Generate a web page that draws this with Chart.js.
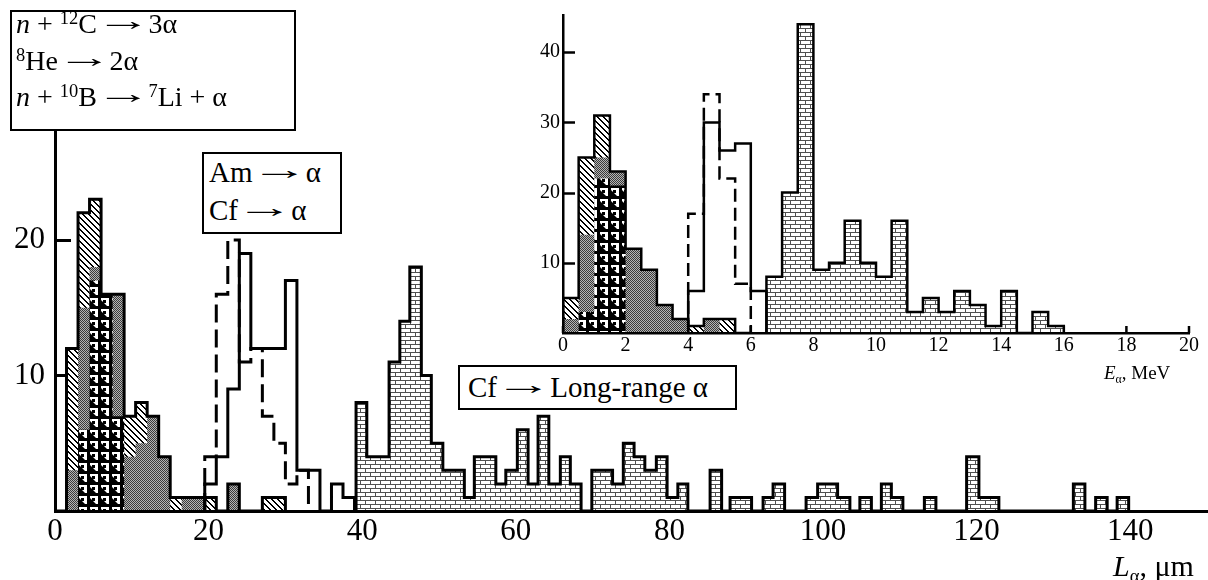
<!DOCTYPE html>
<html>
<head>
<meta charset="utf-8">
<script src="https://cdn.jsdelivr.net/npm/chart.js@4.4.1/dist/chart.umd.min.js"></script>
<style>
  body { margin: 0; background: #fff; }
  #wrap { position: relative; width: 1208px; height: 580px; overflow: hidden; font-family: "Liberation Serif", "Times New Roman", serif; color: #000; background: #fff; }
  #main { position: absolute; left: 0; top: 0; }
  #inset { position: absolute; left: 510px; top: 0; }
  .box { position: absolute; border: 2.5px solid #000; background: #fff; box-sizing: border-box; }
  .txt { position: absolute; white-space: nowrap; line-height: 1; }
  .up { font-size: 0.66em; position: relative; top: -0.5em; }
  .dn { font-size: 0.62em; position: relative; top: 0.3em; }
  .ar { display: inline-block; position: relative; top: -0.1em; transform: scaleX(2.0); margin: 0 0.17em; }
</style>
</head>
<body>
<div id="wrap">
  <canvas id="main" width="1208" height="580"></canvas>
  <canvas id="inset" width="698" height="378"></canvas>

  <div class="box" style="left:10px;top:10px;width:286px;height:121px"></div>
  <div class="txt" style="left:16px;top:10px;font-size:28px"><i>n</i> + <span class="up">12</span>C <span class="ar">→</span> 3α</div>
  <div class="txt" style="left:16px;top:47px;font-size:28px"><span class="up">8</span>He <span class="ar">→</span> 2α</div>
  <div class="txt" style="left:16px;top:83px;font-size:28px"><i>n</i> + <span class="up">10</span>B <span class="ar">→</span> <span class="up">7</span>Li + α</div>

  <div class="box" style="left:202px;top:152px;width:140px;height:82px"></div>
  <div class="txt" style="left:209px;top:158px;font-size:29px">Am <span class="ar">→</span> α</div>
  <div class="txt" style="left:209px;top:196px;font-size:29px">Cf <span class="ar">→</span> α</div>

  <div class="box" style="left:458px;top:365px;width:279px;height:45px"></div>
  <div class="txt" style="left:468px;top:373px;font-size:29px">Cf <span class="ar">→</span> Long-range α</div>

  <div class="txt" style="left:1113px;top:551px;font-size:30px"><i>L</i><span class="dn">α</span>, μm</div>
  <div class="txt" style="left:1104px;top:363px;font-size:19px"><i>E</i><span class="dn">α</span>, MeV</div>
</div>

<script>
// ---- main histogram, L_alpha (um), bins 1.5 um ----
const lowEdges = [0, 1.5, 3, 4.5, 6, 7.5, 9, 10.5, 12, 13.5, 15, 16.5, 18, 19.5, 21, 22.5, 24, 25.5, 27, 28.5, 30];
const lowBoron = [0, 0, 6, 17, 16, 7, 0, 0, 0, 0, 0, 0, 0, 0, 0, 0, 0, 0, 0, 0];
const lowHelium = [0, 3, 9, 1, 0, 9, 4, 5, 7, 4, 0, 1, 1, 0, 0, 2, 0, 0, 0, 0];
const lowCarbon = [0, 9, 7, 5, 0, 0, 3, 3, 0, 0, 1, 0, 0, 1, 0, 0, 0, 0, 1, 1];

const cfEdges = [19.5, 21, 22.5, 24, 25.5, 27, 28.5, 30, 31.5, 33, 34.5, 36, 37.5, 39];
const cfCounts = [2, 4, 9, 19, 12, 12, 12, 17, 3, 3, 0, 2, 1];
const amEdges = [19.5, 21, 22.5, 24, 25.5, 27, 28.5, 30, 31.5, 33];
const amCounts = [4, 16, 20, 11, 12, 7, 5, 2, 3];

const longEdges = [39.2, 40.6, 42.1, 43.5, 44.9, 46.2, 47.7, 49.0, 50.5, 51.9, 53.3, 54.6, 56.0, 57.4, 58.7, 60.2,
  61.6, 62.9, 64.3, 65.8, 67.1, 68.5, 69.9, 71.2, 72.6, 74.0, 75.4, 76.8, 78.3, 79.7, 81.1, 82.4, 85.3, 86.8,
  87.9, 89.3, 90.7, 92.2, 93.5, 95.0, 97.8, 99.3, 100.6, 101.9, 103.5, 104.8, 106.3, 107.6, 108.9, 110.4,
  113.2, 114.7, 118.7, 120.3, 121.6, 122.9, 132.6, 134.1, 135.5, 137.0, 138.3, 139.8];
const longCounts = [8, 4, 4, 11, 14, 18, 10, 5, 3, 3, 1, 4, 4, 2, 3, 6, 2, 7, 2, 4, 2, 0, 3, 3, 2, 5, 4, 3, 4, 1,
  2, 0, 3, 0, 1, 1, 0, 1, 2, 0, 1, 2, 2, 1, 0, 1, 0, 2, 1, 0, 1, 0, 4, 1, 1, 0, 2, 0, 1, 0, 1];

const mainXTicks = [0, 20, 40, 60, 80, 100, 120, 140];
const mainYTicks = [10, 20];

// ---- inset histogram, E_alpha (MeV), bins 0.5 MeV ----
const inLowEdges = [0, 0.5, 1, 1.5, 2, 2.5, 3, 3.5, 4, 4.5, 5, 5.5, 6];
const inBoron = [0, 3, 22, 21, 0, 0, 0, 0, 0, 0, 0, 0];
const inHelium = [2, 11, 3, 2, 12, 9, 4, 2, 0, 2, 0, 0];
const inCarbon = [3, 11, 6, 0, 0, 0, 0, 0, 1, 0, 2, 0];

const inCfEdges = [4, 4.5, 5, 5.5, 6, 6.5];
const inCfCounts = [6, 30, 26, 27, 6];
const inAmEdges = [4, 4.5, 5, 5.5, 6];
const inAmCounts = [17, 34, 22, 7];

const inLongEdges = [6.5, 7, 7.5, 8, 8.5, 9, 9.5, 10, 10.5, 11, 11.5, 12, 12.5, 13, 13.5, 14, 14.5, 15, 15.5, 16];
const inLongCounts = [8, 20, 44, 9, 10, 16, 10, 8, 16, 3, 5, 3, 6, 4, 1, 6, 0, 3, 1];

const inXTicks = [0, 2, 4, 6, 8, 10, 12, 14, 16, 18, 20];
const inYTicks = [10, 20, 30, 40];

// ---- helpers ----
function stepPoints(edges, counts) {
  const pts = [{ x: edges[0], y: 0 }];
  counts.forEach((c, i) => pts.push({ x: edges[i], y: c }));
  pts.push({ x: edges[edges.length - 1], y: 0 });
  return pts;
}
function addUp(...arrs) {
  return arrs[0].map((_, i) => arrs.reduce((s, a) => s + a[i], 0));
}

function makePattern(ctx, w, h, paint) {
  const c = document.createElement("canvas");
  c.width = w; c.height = h;
  const g = c.getContext("2d");
  paint(g);
  return ctx.createPattern(c, "repeat");
}
function patterns(ctx) {
  return {
    hatch: makePattern(ctx, 6, 6, g => {
      g.fillStyle = "#fff"; g.fillRect(0, 0, 6, 6);
      g.fillStyle = "#000";
      for (let i = 0; i < 6; i++) { g.fillRect(i, i, 1, 1); g.fillRect((i + 1) % 6, i, 1, 1); }
    }),
    gray: makePattern(ctx, 2, 2, g => {
      g.fillStyle = "#b4b4b4"; g.fillRect(0, 0, 2, 2);
      g.fillStyle = "#3a3a3a"; g.fillRect(0, 0, 1, 1); g.fillRect(1, 1, 1, 1);
    }),
    boron: makePattern(ctx, 11, 11, g => {
      g.fillStyle = "#000"; g.fillRect(0, 0, 11, 11);
      g.fillStyle = "#fff"; g.fillRect(2, 1, 8, 8);
      g.fillStyle = "#000";
      g.beginPath(); g.moveTo(2, 9); g.lineTo(2, 3); g.lineTo(8, 9); g.closePath(); g.fill();
      g.fillRect(4, 3, 3, 3);
    }),
    brick: makePattern(ctx, 10, 8, g => {
      g.fillStyle = "#fff"; g.fillRect(0, 0, 10, 8);
      g.fillStyle = "#505050";
      g.fillRect(0, 0, 10, 1); g.fillRect(0, 4, 10, 1);
      g.fillRect(0, 0, 1, 4); g.fillRect(5, 4, 1, 4);
    })
  };
}

const inwardTicks = {
  id: "inwardTicks",
  beforeDatasetsDraw(chart, args, opts) {
    const { ctx } = chart;
    const x = chart.scales.x, y = chart.scales.y;
    ctx.save();
    ctx.strokeStyle = "#000";
    ctx.lineWidth = opts.width;
    (opts.yValues || []).forEach(v => {
      const py = Math.round(y.getPixelForValue(v)) + 0.5;
      ctx.beginPath(); ctx.moveTo(x.left, py); ctx.lineTo(x.left + opts.yLen, py); ctx.stroke();
    });
    (opts.xValues || []).forEach(v => {
      const px = x.getPixelForValue(v);
      ctx.beginPath(); ctx.moveTo(px, y.bottom); ctx.lineTo(px, y.bottom - opts.xLen); ctx.stroke();
    });
    ctx.restore();
  }
};

function fillLayer(data, bg, order) {
  return { data, stepped: true, fill: "origin", backgroundColor: bg, borderColor: "rgba(0,0,0,0)", borderWidth: 1, order };
}
function outline(data, width, order, dash) {
  return { data, stepped: true, fill: false, borderColor: "#000", borderWidth: width, borderDash: dash || [], borderJoinStyle: "miter", borderCapStyle: "butt", order };
}

function axisOptions(cfg) {
  return {
    type: "linear", min: cfg.min, max: cfg.max,
    afterFit: cfg.fit,
    grid: { display: false, drawTicks: false },
    border: { display: true, color: "#000", width: cfg.bw, z: 1 },
    ticks: {
      stepSize: cfg.step, includeBounds: false, autoSkip: false, maxRotation: 0, padding: cfg.pad, color: "#000",
      font: { family: "Liberation Serif", size: cfg.size },
      callback: v => (cfg.show.includes(v) ? String(v) : "")
    }
  };
}

// ---- main chart ----
const mainCtx = document.getElementById("main").getContext("2d");
const pm = patterns(mainCtx);
new Chart(mainCtx, {
  type: "line",
  data: {
    datasets: [
      outline(stepPoints(cfEdges, cfCounts), 3, 1),
      outline(stepPoints(amEdges, amCounts), 3, 2, [18, 7]),
      Object.assign(outline(stepPoints(longEdges, longCounts), 3, 3), { fill: "origin", backgroundColor: pm.brick }),
      outline(stepPoints(lowEdges, addUp(lowBoron, lowHelium, lowCarbon)), 3, 4),
      fillLayer(stepPoints(lowEdges, lowBoron), pm.boron, 5),
      fillLayer(stepPoints(lowEdges, addUp(lowBoron, lowHelium)), pm.gray, 6),
      fillLayer(stepPoints(lowEdges, addUp(lowBoron, lowHelium, lowCarbon)), pm.hatch, 7)
    ]
  },
  options: {
    responsive: false,
    animation: false,
    layout: { padding: { top: 118, right: 1, left: 0, bottom: 0 } },
    elements: { point: { radius: 0 }, line: { tension: 0 } },
    plugins: {
      legend: { display: false },
      tooltip: { enabled: false },
      inwardTicks: { yValues: mainYTicks, yLen: 16, width: 3 }
    },
    scales: {
      x: axisOptions({ min: 0, max: 150, step: 20, pad: 2, size: 31, bw: 3, show: mainXTicks, fit: s => { s.height = 69; } }),
      y: axisOptions({ min: 0, max: 29, step: 10, pad: 10, size: 31, bw: 3, show: mainYTicks, fit: s => { s.width = 55; } })
    }
  },
  plugins: [inwardTicks]
});

// ---- inset chart ----
const inCtx = document.getElementById("inset").getContext("2d");
const pi = patterns(inCtx);
new Chart(inCtx, {
  type: "line",
  data: {
    datasets: [
      outline(stepPoints(inCfEdges, inCfCounts), 2.5, 1),
      outline(stepPoints(inAmEdges, inAmCounts), 2.5, 2, [13, 6]),
      Object.assign(outline(stepPoints(inLongEdges, inLongCounts), 2.5, 3), { fill: "origin", backgroundColor: pi.brick }),
      outline(stepPoints(inLowEdges, addUp(inBoron, inHelium, inCarbon)), 2.5, 4),
      fillLayer(stepPoints(inLowEdges, inBoron), pi.boron, 5),
      fillLayer(stepPoints(inLowEdges, addUp(inBoron, inHelium)), pi.gray, 6),
      fillLayer(stepPoints(inLowEdges, addUp(inBoron, inHelium, inCarbon)), pi.hatch, 7)
    ]
  },
  options: {
    responsive: false,
    animation: false,
    layout: { padding: { top: 8, right: 19, left: 0, bottom: 0 } },
    elements: { point: { radius: 0 }, line: { tension: 0 } },
    plugins: {
      legend: { display: false },
      tooltip: { enabled: false },
      inwardTicks: { yValues: inYTicks, yLen: 12, xValues: inXTicks, xLen: 7, width: 2.5 }
    },
    scales: {
      x: axisOptions({ min: 0, max: 20, step: 2, pad: 1, size: 20, bw: 2.5, show: inXTicks, fit: s => { s.height = 45; } }),
      y: axisOptions({ min: 0, max: 45.3, step: 10, pad: 3, size: 20, bw: 2.5, show: inYTicks, fit: s => { s.width = 53; } })
    }
  },
  plugins: [inwardTicks]
});
</script>
</body>
</html>
